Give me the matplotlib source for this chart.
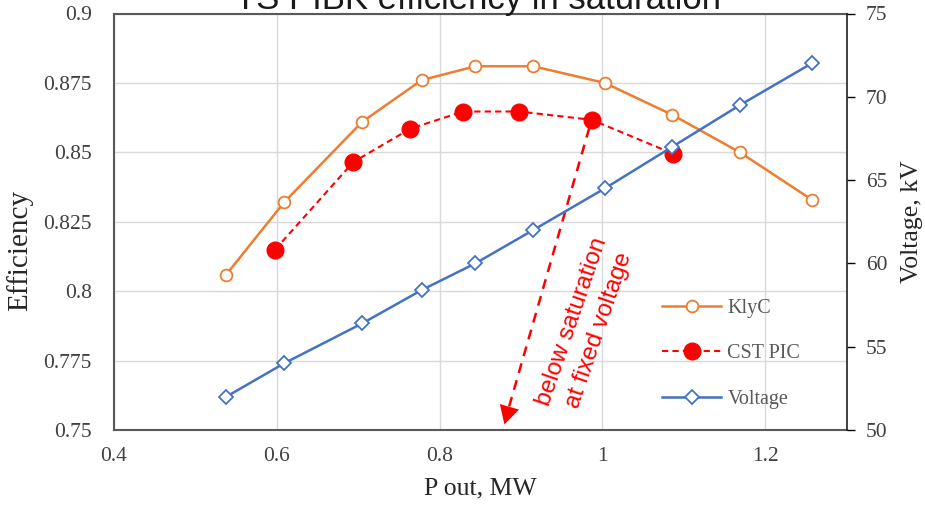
import matplotlib
matplotlib.use("Agg")
import matplotlib.pyplot as plt
from matplotlib.ticker import FormatStrFormatter, FuncFormatter

# KlyC simulation (efficiency) and voltage, same power points
p_klyc = [0.538, 0.609, 0.705, 0.778, 0.844, 0.915, 1.003, 1.086, 1.169, 1.257]
eff_klyc = [0.806, 0.832, 0.861, 0.876, 0.881, 0.881, 0.875, 0.8635, 0.850, 0.833]
volt_kv = [52.0, 54.0, 56.4, 58.4, 60.0, 62.0, 64.5, 67.0, 69.5, 72.0]

# CST PIC
p_cst = [0.598, 0.694, 0.764, 0.829, 0.898, 0.987, 1.087]
eff_cst = [0.815, 0.8465, 0.8585, 0.8647, 0.8647, 0.8617, 0.8495]

xticks = [0.4, 0.6, 0.8, 1.0, 1.2]
yticks = [0.75, 0.775, 0.8, 0.825, 0.85, 0.875, 0.9]
vticks = [50, 55, 60, 65, 70, 75]

serif = "Liberation Serif"
sans = "Liberation Sans"

fig = plt.figure(figsize=(9.25, 5.05), dpi=100)
ax = fig.add_axes([114 / 925, 75 / 505, 732.5 / 925, 416.5 / 505])
ax2 = ax.twinx()

ax.plot(p_klyc, eff_klyc, color="#ED7D31", lw=1.8, marker="o", ms=8.5,
        mfc="white", mec="#ED7D31", mew=1.3, label="KlyC", zorder=3)
ax.plot(p_cst, eff_cst, color="#FF0000", lw=1.5, ls=(0, (3, 2)), marker="o",
        ms=12, mfc="#FF0000", mec="#FF0000", label="CST PIC", zorder=3)
ax2.plot(p_klyc, volt_kv, color="#4472C4", lw=1.8, marker="D", ms=7.5,
         mfc="white", mec="#4472C4", mew=1.3, label="Voltage", zorder=3)

ax.set_xlim(0.4, 1.3)
ax.set_ylim(0.75, 0.9)
ax2.set_ylim(50, 75)
ax.set_xticks(xticks)
ax.set_yticks(yticks)
ax2.set_yticks(vticks)
ax.xaxis.set_major_formatter(FuncFormatter(lambda v, p: "%g" % v))
ax.yaxis.set_major_formatter(FuncFormatter(lambda v, p: "%g" % v))
ax2.yaxis.set_major_formatter(FormatStrFormatter("%d"))

ax.grid(True, color="#D9D9D9", lw=1.0, zorder=0)
ax.set_axisbelow(True)

ax.tick_params(axis="both", length=0, labelsize=15.5, labelcolor="#404040")
ax.tick_params(axis="y", pad=16)
ax.tick_params(axis="x", pad=12)
ax2.tick_params(axis="y", direction="out", length=6, width=1.0,
                labelsize=15.5, labelcolor="#404040", pad=8)
for lab in ax.get_xticklabels() + ax.get_yticklabels() + ax2.get_yticklabels():
    lab.set_fontfamily(serif)

for s in ["left", "bottom", "top"]:
    ax.spines[s].set_color("#595959")
    ax.spines[s].set_linewidth(1.5)
for s in ["left", "bottom", "top"]:
    ax2.spines[s].set_visible(False)
ax2.spines["right"].set_color("#202020")
ax2.spines["right"].set_linewidth(1.2)
ax.spines["right"].set_visible(False)

ax.set_xlabel("P out, MW", fontsize=18.5, family=serif, color="#262626")
ax.set_ylabel("Efficiency", fontsize=21, family=serif, color="#262626")
ax2.set_ylabel("Voltage, kV", fontsize=18.5, family=serif, color="#262626")
ax.xaxis.set_label_coords(0.5, -0.115)
ax.yaxis.set_label_coords(-0.11, 0.43)
ax2.yaxis.set_label_coords(1.075, 0.5)

# annotation: dashed red arrow and rotated note
x0, y0 = 0.984, 0.8588
x1, y1 = 0.8797, 0.752
xb, yb = 0.8855, 0.7585
ax.plot([x0, xb], [y0, yb], color="#FF0000", lw=1.8,
        ls=(0, (4, 3)), zorder=4)
ax.annotate("", xy=(x1, y1), xytext=(x0, y0),
            arrowprops=dict(arrowstyle="-|>,head_length=0.55,head_width=0.3",
                            color="#FF0000", lw=0, mutation_scale=24,
                            shrinkA=0, shrinkB=0), zorder=4)
ax.text(0.9795, 0.7875, "below saturation\nat fixed voltage", color="#FF0000",
        fontsize=17.5, family=sans, rotation=71, rotation_mode="anchor",
        ha="center", va="center", linespacing=1.4, zorder=5)

h1, l1 = ax.get_legend_handles_labels()
h2, l2 = ax2.get_legend_handles_labels()
leg = ax2.legend(h1 + h2, l1 + l2, loc="upper left",
                 bbox_to_anchor=(662 / 925, 1 - 299 / 505),
                 bbox_transform=fig.transFigure, frameon=False,
                 prop={"family": serif, "size": 14.5}, handlelength=2.95,
                 handletextpad=0.3, labelspacing=1.3, borderpad=0,
                 borderaxespad=0, numpoints=1)
for t in leg.get_texts():
    t.set_color("#595959")

fig.text(478 / 925, 1 - 9 / 505, "TS PIBK efficiency in saturation",
         ha="center", va="baseline", fontsize=25, family=sans, color="#1a1a1a")

fig.savefig("out.png", dpi=100)
